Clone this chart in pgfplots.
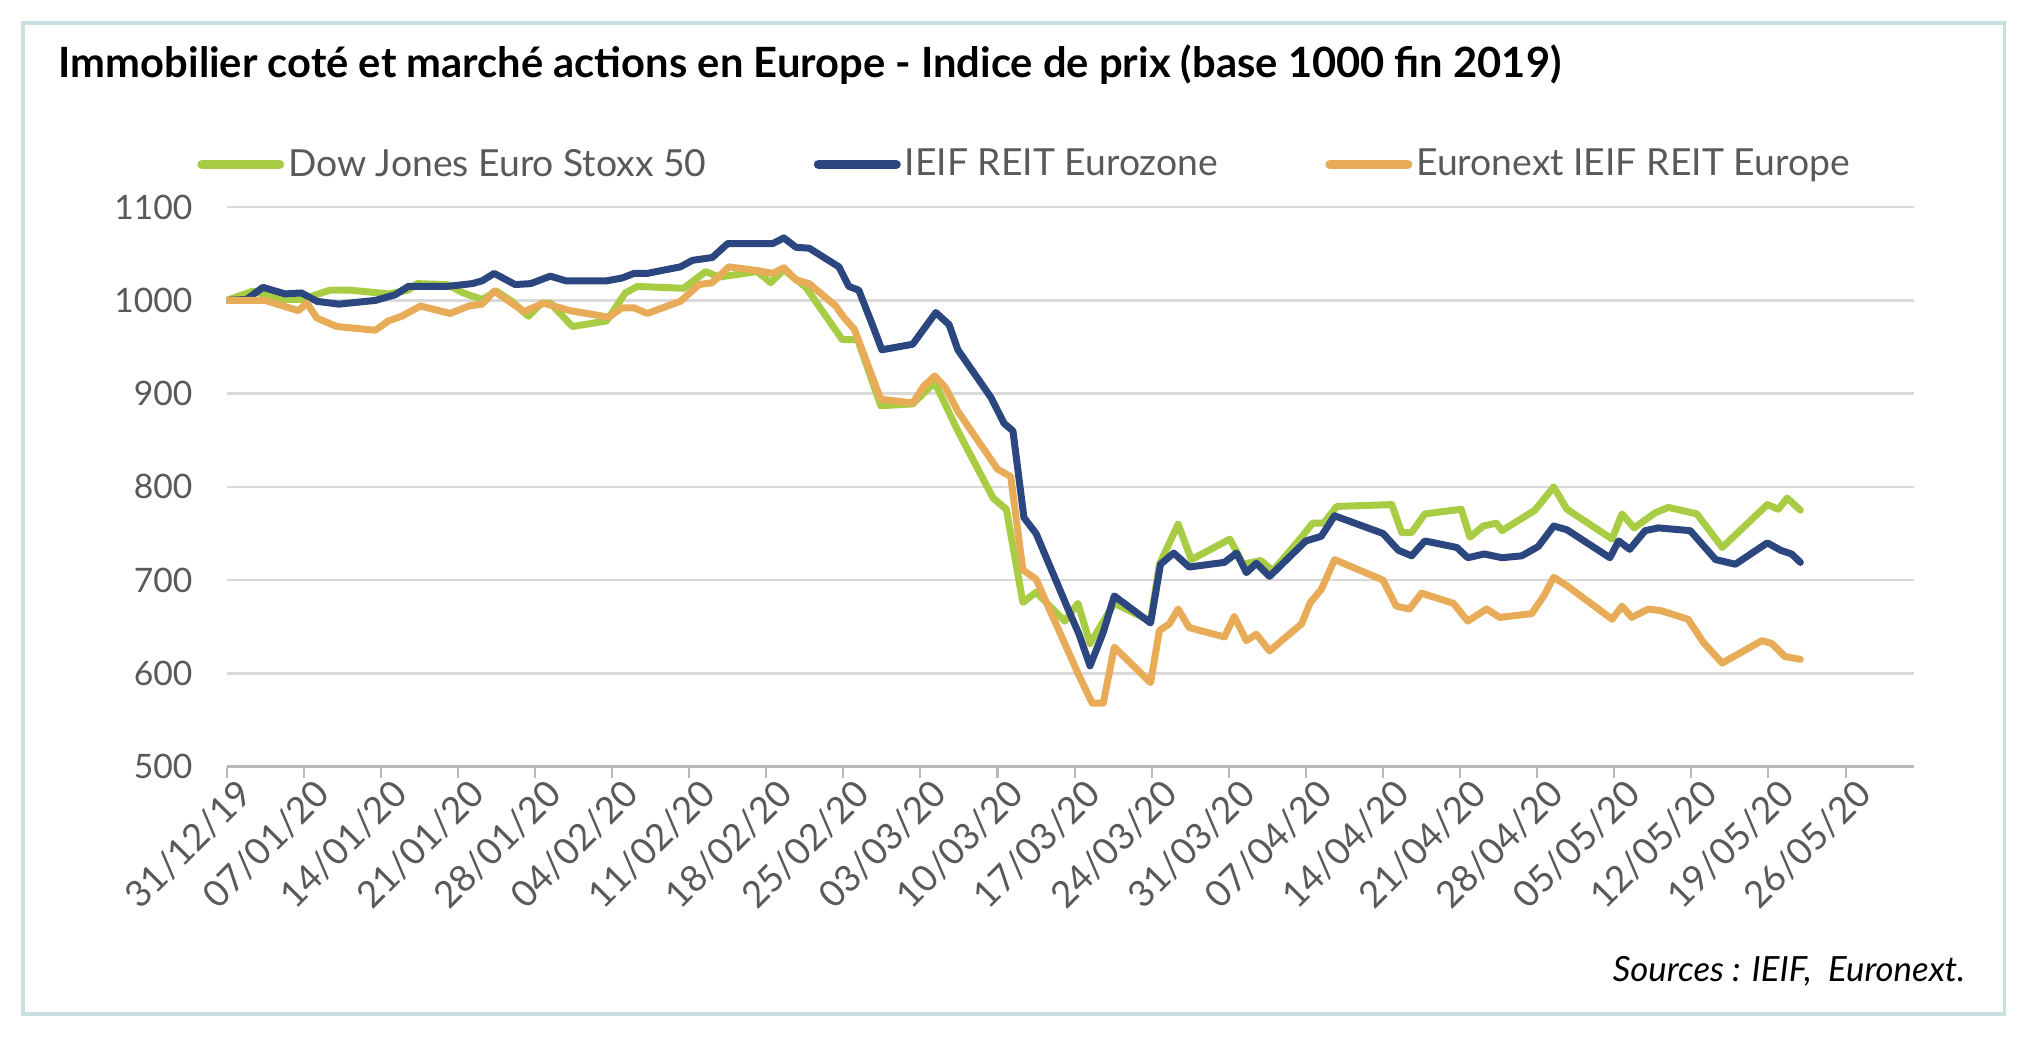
\documentclass[border=0pt]{standalone}
\usepackage{pgfplots}
\pgfplotsset{compat=1.18}
\usepackage{fontspec}
\setmainfont{Lato}
\definecolor{cgreen}{RGB}{168,204,68}
\definecolor{cblue}{RGB}{44,70,128}
\definecolor{corange}{RGB}{232,172,88}
\definecolor{textgray}{RGB}{89,89,89}
\definecolor{gridgray}{RGB}{217,217,217}
\definecolor{framec}{RGB}{200,225,224}
\begin{document}
\begin{tikzpicture}
\path[use as bounding box] (0pt,0pt) rectangle (780pt,403pt);
\draw[framec, line width=1.5pt] (9pt,11.5pt) rectangle (774pt,394pt);
\node[anchor=base west, inner sep=0pt, font=\fontsize{16.1}{19}\selectfont\bfseries] at (22.5pt,373pt) {Immobilier coté et marché actions en Europe - Indice de prix (base 1000 fin 2019)};
\node[anchor=base east, inner sep=0pt, font=\fontsize{13.4}{16}\selectfont\itshape] at (759pt,24pt) {Sources : IEIF,~~Euronext.};
\begin{axis}[
  at={(87.5pt,107pt)}, anchor=south west,
  scale only axis, width=651.5pt, height=216pt,
  xmin=0, xmax=153.2, ymin=500, ymax=1100,
  ytick={500,600,...,1100},
  xtick={0,7,...,147},
  xticklabels={31/12/19,07/01/20,14/01/20,21/01/20,28/01/20,04/02/20,11/02/20,18/02/20,25/02/20,03/03/20,10/03/20,17/03/20,24/03/20,31/03/20,07/04/20,14/04/20,21/04/20,28/04/20,05/05/20,12/05/20,19/05/20,26/05/20},
  axis lines*=left,
  axis line style={-},
  x axis line style={draw=gridgray!85!black, line width=1pt},
  y axis line style={draw=none},
  ymajorgrids, grid style={gridgray, line width=1pt},
  xtick align=outside, ytick style={draw=none},
  xtick style={draw=gridgray!85!black, line width=0.8pt},
  major tick length=4.5pt,
  /pgf/number format/assume math mode=true,
  /pgf/number format/set thousands separator={},
  yticklabel style={font=\fontsize{13}{15}\selectfont, text=textgray, inner sep=0pt, xshift=-13pt},
  xticklabel style={font=\fontsize{14.2}{16}\selectfont, text=textgray, rotate=45, anchor=north east, inner sep=1pt, xshift=4pt, yshift=-1pt},
  legend style={draw=none, fill=none, at={(-0.0177,1.0764)}, anchor=west, legend columns=3,
    font=\fontsize{14.4}{17}\selectfont, text=textgray, inner sep=0pt,
    nodes={inner sep=1.5pt},
    /tikz/every even column/.append style={column sep=40pt}},
  legend image code/.code={\draw[#1, line width=3.6pt, line cap=round] (0pt,0pt) -- (30pt,0pt);},
  every axis plot/.append style={line width=2.7pt, line join=round, line cap=round},
]
\addplot[cgreen] coordinates {
(0.0,1000) (2.4,1010) (3.5,1006) (5.3,1001) (6.8,1001) (9.4,1011) (11.2,1011) (14.7,1007)
(16.5,1011) (17.3,1018) (20.0,1017) (21.5,1008) (23.2,1001) (24.5,1010) (25.9,999) (27.4,983)
(28.6,997) (29.4,997) (31.4,972) (34.5,978) (36.2,1008) (37.3,1015) (41.5,1013) (43.5,1031)
(44.7,1025) (48.2,1031) (49.4,1019) (50.6,1033) (52.6,1014) (55.9,958) (57.3,958) (59.4,887)
(62.3,889) (64.3,912) (66.4,860) (69.6,788) (70.8,776) (72.3,676) (73.5,687) (76.1,656)
(77.3,675) (78.4,632) (80.6,675) (83.9,656) (84.7,717) (86.4,760) (87.6,722) (91.1,744)
(92.3,717) (93.9,721) (95.0,710) (97.6,746) (98.6,761) (99.6,761) (100.8,779) (105.8,781)
(106.7,751) (107.6,751) (108.8,771) (112.1,776) (112.9,746) (114.1,758) (115.3,761) (115.8,753)
(118.8,775) (120.5,800) (121.7,776) (125.8,744) (126.7,771) (127.8,756) (129.7,772) (130.9,778)
(133.5,771) (135.8,735) (139.9,781) (140.9,776) (141.7,788) (142.9,775)
};
\addlegendentry{Dow Jones Euro Stoxx 50}
\addplot[cblue] coordinates {
(0.0,1000) (1.8,1001) (3.3,1014) (5.3,1007) (6.8,1008) (8.2,999) (10.2,996) (13.5,1000)
(15.3,1006) (16.5,1015) (20.0,1015) (22.3,1018) (23.2,1021) (24.3,1029) (26.2,1017) (27.6,1018)
(29.4,1026) (30.8,1021) (34.5,1021) (35.9,1024) (37.0,1029) (38.2,1029) (41.2,1036) (42.3,1043)
(44.1,1046) (45.5,1061) (49.6,1061) (50.6,1067) (51.7,1057) (52.9,1056) (55.6,1036) (56.5,1015)
(57.4,1011) (58.5,978) (59.5,947) (62.3,953) (64.4,987) (65.6,974) (66.4,947) (69.4,896)
(70.6,868) (71.4,860) (72.4,767) (73.5,750) (76.4,669) (77.4,642) (78.4,608) (79.6,644)
(80.6,683) (83.9,654) (84.8,717) (86.0,729) (87.4,714) (90.6,719) (91.7,729) (92.6,708)
(93.5,718) (94.7,704) (98.0,742) (99.4,747) (100.6,769) (105.0,750) (106.4,732) (107.6,726)
(108.8,742) (111.7,735) (112.7,724) (114.2,728) (115.8,724) (117.6,726) (119.1,736) (120.5,758)
(121.7,754) (125.6,724) (126.4,742) (127.4,733) (128.8,753) (130.0,756) (132.9,753) (135.2,722)
(137.0,717) (139.9,740) (141.1,732) (142.1,728) (142.9,719)
};
\addlegendentry{IEIF REIT Eurozone}
\addplot[corange] coordinates {
(0.0,1000) (3.5,1000) (6.5,989) (7.3,997) (8.2,981) (10.0,972) (13.5,968) (14.7,978)
(15.9,983) (17.6,994) (20.3,986) (22.0,994) (23.2,996) (24.3,1010) (27.0,988) (28.8,997)
(31.2,989) (34.7,982) (35.9,992) (37.0,992) (38.2,986) (41.2,999) (42.9,1017) (44.1,1019)
(45.6,1036) (48.2,1032) (49.6,1029) (50.6,1035) (51.7,1022) (52.9,1018) (55.3,994) (56.1,981)
(57.0,969) (59.4,894) (62.3,890) (63.3,908) (64.3,919) (65.3,906) (66.4,881) (70.0,819)
(71.2,811) (72.3,711) (73.5,701) (74.7,669) (76.1,632) (77.3,600) (78.6,568) (79.6,568)
(80.6,628) (83.9,590) (84.7,646) (85.6,653) (86.4,669) (87.4,649) (90.6,639) (91.5,661)
(92.6,635) (93.5,642) (94.7,624) (97.6,653) (98.4,676) (99.4,690) (100.6,722) (105.0,700)
(106.2,672) (107.4,669) (108.5,686) (111.4,675) (112.7,656) (114.4,669) (115.6,660) (118.5,664)
(119.6,683) (120.5,703) (121.7,694) (125.8,658) (126.7,672) (127.6,660) (129.1,669) (130.3,667)
(132.7,658) (134.1,633) (135.8,611) (139.4,635) (140.3,632) (141.5,618) (142.9,615)
};
\addlegendentry{Euronext IEIF REIT Europe}
\end{axis}
\end{tikzpicture}
\end{document}
